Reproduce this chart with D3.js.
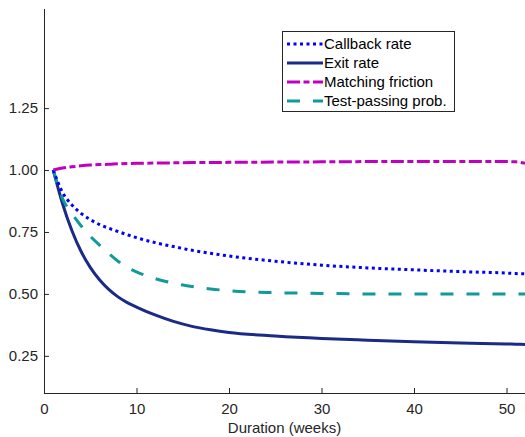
<!DOCTYPE html>
<html><head><meta charset="utf-8">
<script src="https://cdn.jsdelivr.net/npm/d3@7"></script>
<style>body{margin:0;background:#fff}svg{display:block}text{font-family:"Liberation Sans",Arial,sans-serif}</style>
</head><body>
<script>
const weeks = [1,2,3,4,5,6,7,8,9,10,12,14,16,18,20,25,30,35,40,45,50,51,52];
const callback = [1.0,0.91,0.86,0.825,0.80,0.78,0.765,0.752,0.739,0.727,0.707,0.691,0.676,0.664,0.653,0.632,0.616,0.605,0.597,0.59,0.584,0.582,0.581];
const exitRate = [1.0,0.865,0.757,0.672,0.607,0.557,0.518,0.488,0.465,0.447,0.415,0.389,0.369,0.355,0.344,0.33,0.32,0.313,0.307,0.302,0.298,0.297,0.296];
const matching = [1.0,1.008,1.013,1.017,1.02,1.022,1.023,1.025,1.026,1.027,1.028,1.029,1.03,1.03,1.031,1.032,1.033,1.034,1.034,1.034,1.034,1.033,1.027];
const testPass = [1.0,0.885,0.825,0.775,0.733,0.697,0.663,0.632,0.607,0.589,0.562,0.543,0.53,0.52,0.513,0.505,0.502,0.5,0.5,0.5,0.5,0.5,0.5];
const seriesNames = ["Callback rate","Exit rate","Matching friction","Test-passing prob."];
const xTicks = [0,10,20,30,40,50];
const yTicks = [0.25,0.5,0.75,1.0,1.25];

const W=525,H=437;
const svg=d3.select("body").append("svg").attr("width",W).attr("height",H);
const x=d3.scaleLinear().domain([0,52]).range([44,525]);
const y=d3.scaleLinear().domain([0.1,1.65]).range([393,9]);
const axisCol="#262626";

const series=[
 {name:seriesNames[0],vals:callback,color:"#0000ff",dash:"3,3.5"},
 {name:seriesNames[1],vals:exitRate,color:"#1a2a86",dash:null},
 {name:seriesNames[2],vals:matching,color:"#c000c0",dash:"13,3.5,6,3.5"},
 {name:seriesNames[3],vals:testPass,color:"#109a9a",dash:"13,13"}
];
const line=d3.line().x(d=>x(d[0])).y(d=>y(d[1])).curve(d3.curveMonotoneX);
const order=[1,3,0,2];
order.forEach(i=>{const s=series[i];
 svg.append("path").datum(weeks.map((w,j)=>[w,s.vals[j]]))
  .attr("d",line).attr("fill","none").attr("stroke",s.color).attr("stroke-width",3)
  .attr("stroke-dasharray",s.dash);
});

// axes
const xa=svg.append("g").attr("transform","translate(0,393)")
 .call(d3.axisBottom(x).tickValues(xTicks).tickSizeInner(-5).tickSizeOuter(0).tickPadding(10));
const ya=svg.append("g").attr("transform","translate(44,0)")
 .call(d3.axisLeft(y).tickValues(yTicks).tickFormat(d3.format(".2f")).tickSizeInner(-5).tickSizeOuter(0).tickPadding(6));
[xa,ya].forEach(a=>{a.select(".domain").attr("stroke",axisCol);a.selectAll("line").attr("stroke",axisCol);
 a.selectAll("text").attr("fill",axisCol).style("font-size","15px");});
xa.select(".domain").attr("d","M44,0.5H525");
ya.select(".domain").attr("d","M0.5,9V393");
svg.append("text").attr("x",x(26)).attr("y",433).attr("text-anchor","middle").attr("fill",axisCol)
 .style("font-size","15px").text("Duration (weeks)");

// legend
const lg=svg.append("g");
lg.append("rect").attr("x",282.5).attr("y",31.5).attr("width",172).attr("height",80)
 .attr("fill","#fff").attr("stroke","#262626").attr("stroke-width",1);
series.forEach((s,i)=>{const yy=44+i*19;
 lg.append("line").attr("x1",287).attr("x2",323).attr("y1",yy).attr("y2",yy)
  .attr("stroke",s.color).attr("stroke-width",3).attr("stroke-dasharray",s.dash);
 lg.append("text").attr("x",324).attr("y",yy+5).attr("fill","#000").style("font-size","15px").text(s.name);
});
</script>
</body></html>
